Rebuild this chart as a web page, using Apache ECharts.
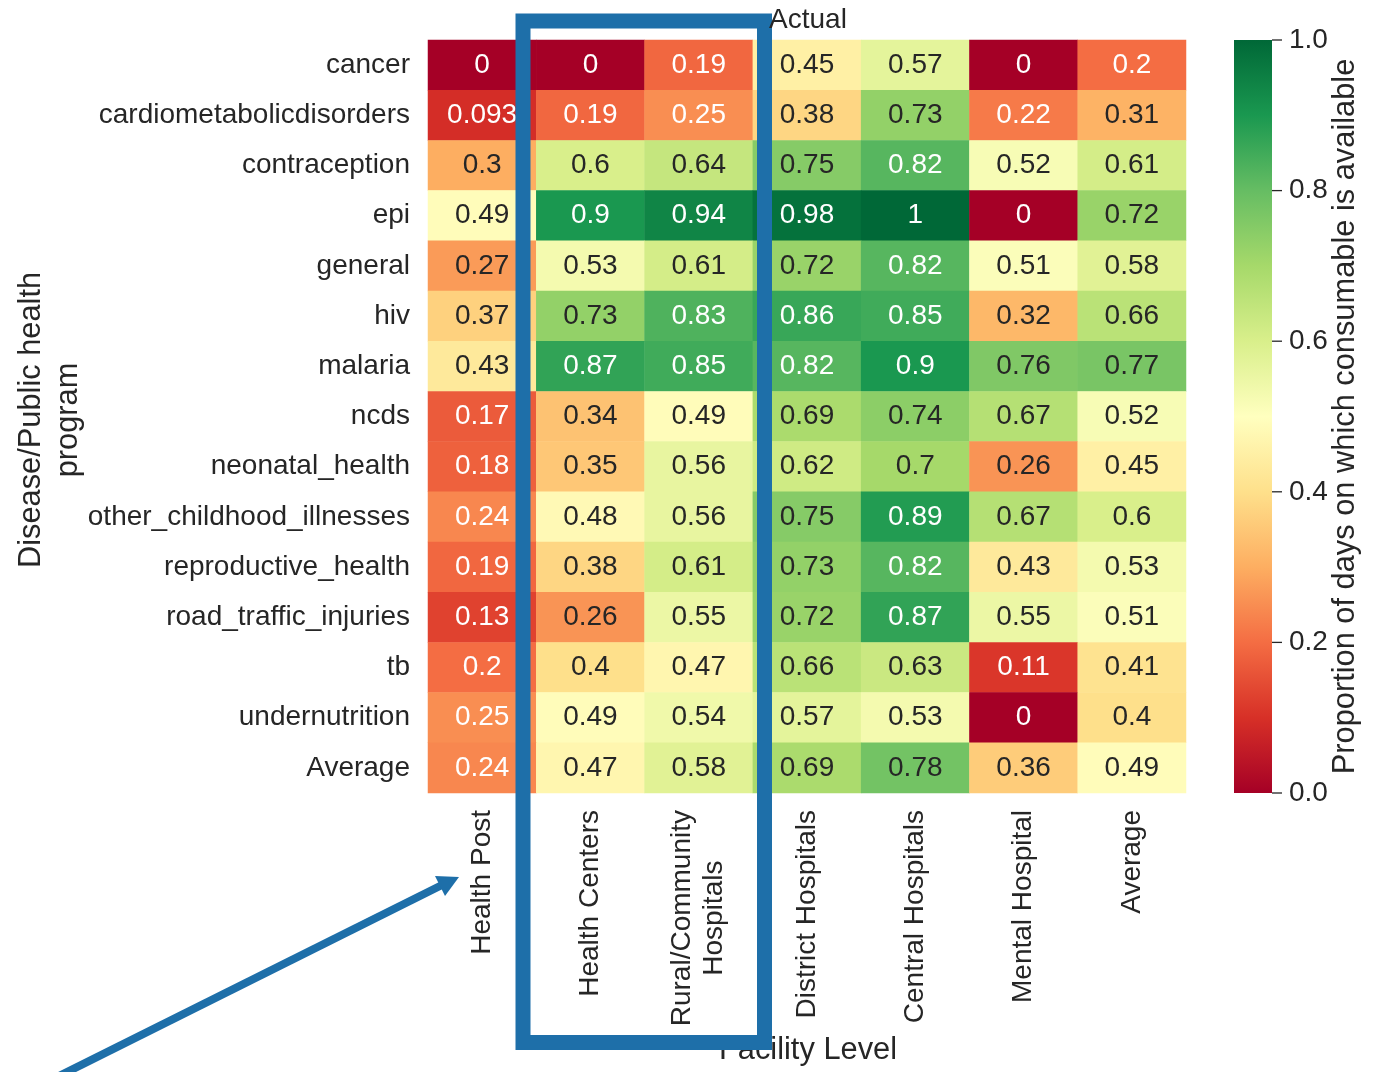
<!DOCTYPE html>
<html>
<head>
<meta charset="utf-8">
<script src="https://cdn.jsdelivr.net/npm/echarts@6/dist/echarts.min.js"></script>
<style>html,body{margin:0;padding:0;background:#fff}#c{width:1381px;height:1072px}</style>
</head>
<body>
<div id="c"></div>
<script>
const facilities = ['Health Post', 'Health Centers', 'Rural/Community\nHospitals', 'District Hospitals', 'Central Hospitals', 'Mental Hospital', 'Average'];
const programs = ['cancer', 'cardiometabolicdisorders', 'contraception', 'epi', 'general', 'hiv', 'malaria', 'ncds', 'neonatal_health', 'other_childhood_illnesses', 'reproductive_health', 'road_traffic_injuries', 'tb', 'undernutrition', 'Average'];
const cancer = [0, 0, 0.19, 0.45, 0.57, 0, 0.2];
const cardiometabolicdisorders = [0.093, 0.19, 0.25, 0.38, 0.73, 0.22, 0.31];
const contraception = [0.3, 0.6, 0.64, 0.75, 0.82, 0.52, 0.61];
const epi = [0.49, 0.9, 0.94, 0.98, 1, 0, 0.72];
const general = [0.27, 0.53, 0.61, 0.72, 0.82, 0.51, 0.58];
const hiv = [0.37, 0.73, 0.83, 0.86, 0.85, 0.32, 0.66];
const malaria = [0.43, 0.87, 0.85, 0.82, 0.9, 0.76, 0.77];
const ncds = [0.17, 0.34, 0.49, 0.69, 0.74, 0.67, 0.52];
const neonatal_health = [0.18, 0.35, 0.56, 0.62, 0.7, 0.26, 0.45];
const other_childhood_illnesses = [0.24, 0.48, 0.56, 0.75, 0.89, 0.67, 0.6];
const reproductive_health = [0.19, 0.38, 0.61, 0.73, 0.82, 0.43, 0.53];
const road_traffic_injuries = [0.13, 0.26, 0.55, 0.72, 0.87, 0.55, 0.51];
const tb = [0.2, 0.4, 0.47, 0.66, 0.63, 0.11, 0.41];
const undernutrition = [0.25, 0.49, 0.54, 0.57, 0.53, 0, 0.4];
const average = [0.24, 0.47, 0.58, 0.69, 0.78, 0.36, 0.49];
const rows = [cancer, cardiometabolicdisorders, contraception, epi, general, hiv, malaria, ncds, neonatal_health, other_childhood_illnesses, reproductive_health, road_traffic_injuries, tb, undernutrition, average];
const colorbarTicks = [0, 0.2, 0.4, 0.6, 0.8, 1.0];

const RdYlGn = ['#a50026','#d73027','#f46d43','#fdae61','#fee08b','#ffffbf','#d9ef8b','#a6d96a','#66bd63','#1a9850','#006837'];
const FONT = '"Liberation Sans", Arial, sans-serif';
const TXT = '#262626';
const BLUE = '#1e6fa9';
const LABEL_SIZE = 30.8;

function hexToRgb(h){return [parseInt(h.slice(1,3),16),parseInt(h.slice(3,5),16),parseInt(h.slice(5,7),16)];}
function cmap(v){
  const p = Math.max(0, Math.min(1, v)) * (RdYlGn.length - 1);
  const i = Math.min(Math.floor(p), RdYlGn.length - 2);
  const t = p - i;
  const a = hexToRgb(RdYlGn[i]), b = hexToRgb(RdYlGn[i+1]);
  return a.map((c,k)=>c + (b[k]-c)*t);
}
function lum(rgb){
  const l = rgb.map(c=>{c/=255;return c<=0.03928?c/12.92:Math.pow((c+0.055)/1.055,2.4);});
  return 0.2126*l[0]+0.7152*l[1]+0.0722*l[2];
}
function fmt(v){return String(parseFloat(v.toPrecision(2)));}

const data = [];
rows.forEach((r, yi) => r.forEach((v, xi) => {
  data.push({value:[xi, yi, v], label:{color: lum(cmap(v)) > 0.408 ? TXT : '#ffffff'}});
}));

const chart = echarts.init(document.getElementById('c'));
chart.setOption({
  backgroundColor:'#fff',
  animation:false,
  textStyle:{fontFamily:FONT},
  grid:[
    {left:428, top:40, width:758, height:753},
    {left:1234, top:40, width:38, height:753}
  ],
  xAxis:[
    {type:'category', data:facilities, gridIndex:0, position:'bottom',
     axisLine:{show:false}, axisTick:{show:false}, splitArea:{show:false},
     axisLabel:{rotate:90, fontSize:28, color:TXT, fontFamily:FONT, margin:17, interval:0,
       formatter: s => s.split('\n').map(p=>'{c|'+p+'}').join('\n'),
       rich:{c:{fontSize:28, color:TXT, fontFamily:FONT, align:'center', lineHeight:32}}}},
    {type:'value', gridIndex:1, min:0, max:1, show:false}
  ],
  yAxis:[
    {type:'category', data:programs, gridIndex:0, inverse:true,
     axisLine:{show:false}, axisTick:{show:false}, splitArea:{show:false},
     axisLabel:{fontSize:28, color:TXT, fontFamily:FONT, margin:18, interval:0}},
    {type:'value', gridIndex:1, min:0, max:1, interval:0.2, position:'right',
     axisLine:{show:false}, splitLine:{show:false}, axisTick:{show:false},
     axisLabel:{fontSize:28, color:TXT, fontFamily:FONT, margin:17,
       formatter: v => colorbarTicks.some(t=>Math.abs(t-v)<1e-9) ? v.toFixed(1) : ''}}
  ],
  visualMap:{show:false, type:'continuous', min:0, max:1, seriesIndex:0, dimension:2,
    inRange:{color:RdYlGn}},
  series:[
    {type:'heatmap', xAxisIndex:0, yAxisIndex:0, data:data,
     itemStyle:{borderWidth:0},
     label:{show:true, fontSize:28, fontFamily:FONT, formatter: p => fmt(p.value[2])},
     emphasis:{disabled:true}},
    {type:'custom', xAxisIndex:1, yAxisIndex:1, data:[[0,0,1,1]], silent:true, clip:false,
     renderItem:(params, api) => {
       const p0 = api.coord([0,1]), p1 = api.coord([1,0]);
       const children = [{type:'rect', shape:{x:p0[0], y:p0[1], width:p1[0]-p0[0], height:p1[1]-p0[1]},
         style:{fill:new echarts.graphic.LinearGradient(0,0,0,1,
           RdYlGn.slice().reverse().map((c,i)=>({offset:i/(RdYlGn.length-1), color:c})))}}];
       colorbarTicks.forEach(t => {
         const y = api.coord([1,t])[1];
         children.push({type:'line', shape:{x1:p1[0], y1:y, x2:p1[0]+10, y2:y},
           style:{stroke:TXT, lineWidth:1.3}});
       });
       return {type:'group', children};
     }}
  ],
  graphic:[
    {type:'rect', z:100, shape:{x:523, y:21, width:241.5, height:1021.5},
     style:{fill:'none', stroke:BLUE, lineWidth:15}},
    {type:'line', z:100, shape:{x1:40, y1:1085.5, x2:441, y2:885.5},
     style:{stroke:BLUE, lineWidth:8}},
    {type:'polygon', z:100, shape:{points:[[459,877],[435,876],[445,896]]},
     style:{fill:BLUE}},
    {type:'text', z:120, x:808, y:20, style:{text:'Actual', x:0, y:0, align:'center', verticalAlign:'middle',
      fontSize:28, fill:TXT, fontFamily:FONT}},
    {type:'text', z:50, x:808, y:1051, style:{text:'Facility Level', x:0, y:0, align:'center', verticalAlign:'middle',
      fontSize:LABEL_SIZE, fill:TXT, fontFamily:FONT}},
    {type:'text', z:50, x:50, y:420, rotation:Math.PI/2, style:{text:'Disease/Public health\nprogram', x:0, y:0,
      align:'center', verticalAlign:'middle', fontSize:LABEL_SIZE, lineHeight:37, fill:TXT, fontFamily:FONT}},
    {type:'text', z:50, x:1346, y:416.5, rotation:Math.PI/2, style:{text:'Proportion of days on which consumable is available', x:0, y:0,
      align:'center', verticalAlign:'middle', fontSize:LABEL_SIZE, fill:TXT, fontFamily:FONT}}
  ]
});
</script>
</body>
</html>
